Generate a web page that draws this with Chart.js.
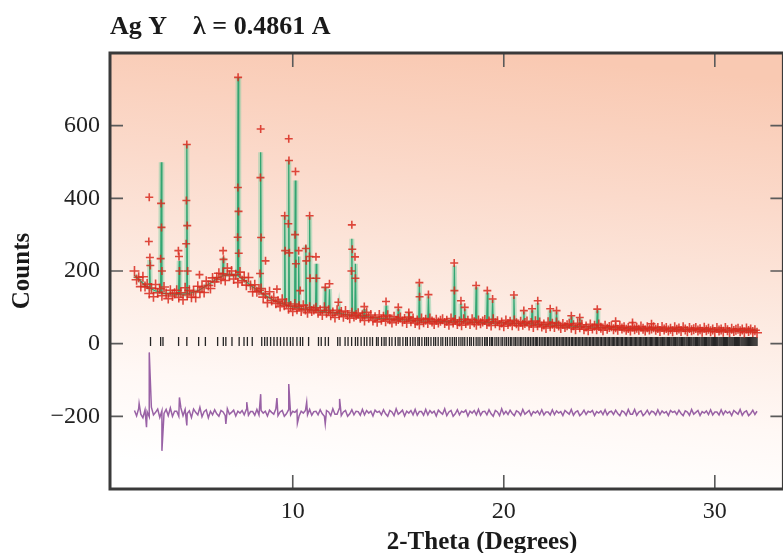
<!DOCTYPE html>
<html>
<head>
<meta charset="utf-8">
<script src="https://cdn.jsdelivr.net/npm/chart.js@4.4.1/dist/chart.umd.min.js"></script>
<style>
  html, body { margin: 0; padding: 0; background: #fff; overflow: hidden; }
  canvas { display: block; }
</style>
</head>
<body>
<canvas id="myChart" width="790" height="553"></canvas>
<script>
const serif = '"Liberation Serif", "Times New Roman", serif';

const titleText = 'Ag Y    \u03bb = 0.4861 A';
const xTitle = '2-Theta (Degrees)';
const yTitle = 'Counts';
const xTickValues = [10, 20, 30];
const yTickValues = [-200, 0, 200, 400, 600];

// scan positions (2-theta, degrees)
const scanTheta = [
  2.5, 2.6, 2.7, 2.8, 2.9,
  3.0, 3.1, 3.2, 3.3, 3.4, 3.5, 3.6, 3.7, 3.8, 3.9,
  4.0, 4.1, 4.2, 4.3, 4.4, 4.5, 4.6, 4.7, 4.8, 4.9,
  5.0, 5.1, 5.2, 5.3, 5.4, 5.5, 5.6, 5.7, 5.8, 5.9,
  6.0, 6.1, 6.2, 6.3, 6.4, 6.5, 6.6, 6.7, 6.8, 6.9,
  7.0, 7.1, 7.2, 7.3, 7.4, 7.5, 7.6, 7.7, 7.8, 7.9,
  8.0, 8.1, 8.2, 8.3, 8.4, 8.5, 8.6, 8.7, 8.8, 8.9,
  9.0, 9.1, 9.2, 9.3, 9.4, 9.5, 9.6, 9.7, 9.8, 9.9,
  10.0, 10.1, 10.2, 10.3, 10.4, 10.5, 10.6, 10.7, 10.8, 10.9,
  11.0, 11.1, 11.2, 11.3, 11.4, 11.5, 11.6, 11.7, 11.8, 11.9,
  12.0, 12.1, 12.2, 12.3, 12.4, 12.5, 12.6, 12.7, 12.8, 12.9,
  13.0, 13.1, 13.2, 13.3, 13.4, 13.5, 13.6, 13.7, 13.8, 13.9,
  14.0, 14.1, 14.2, 14.3, 14.4, 14.5, 14.6, 14.7, 14.8, 14.9,
  15.0, 15.1, 15.2, 15.3, 15.4, 15.5, 15.6, 15.7, 15.8, 15.9,
  16.0, 16.1, 16.2, 16.3, 16.4, 16.5, 16.6, 16.7, 16.8, 16.9,
  17.0, 17.1, 17.2, 17.3, 17.4, 17.5, 17.6, 17.7, 17.8, 17.9,
  18.0, 18.1, 18.2, 18.3, 18.4, 18.5, 18.6, 18.7, 18.8, 18.9,
  19.0, 19.1, 19.2, 19.3, 19.4, 19.5, 19.6, 19.7, 19.8, 19.9,
  20.0, 20.1, 20.2, 20.3, 20.4, 20.5, 20.6, 20.7, 20.8, 20.9,
  21.0, 21.1, 21.2, 21.3, 21.4, 21.5, 21.6, 21.7, 21.8, 21.9,
  22.0, 22.1, 22.2, 22.3, 22.4, 22.5, 22.6, 22.7, 22.8, 22.9,
  23.0, 23.1, 23.2, 23.3, 23.4, 23.5, 23.6, 23.7, 23.8, 23.9,
  24.0, 24.1, 24.2, 24.3, 24.4, 24.5, 24.6, 24.7, 24.8, 24.9,
  25.0, 25.1, 25.2, 25.3, 25.4, 25.5, 25.6, 25.7, 25.8, 25.9,
  26.0, 26.1, 26.2, 26.3, 26.4, 26.5, 26.6, 26.7, 26.8, 26.9,
  27.0, 27.1, 27.2, 27.3, 27.4, 27.5, 27.6, 27.7, 27.8, 27.9,
  28.0, 28.1, 28.2, 28.3, 28.4, 28.5, 28.6, 28.7, 28.8, 28.9,
  29.0, 29.1, 29.2, 29.3, 29.4, 29.5, 29.6, 29.7, 29.8, 29.9,
  30.0, 30.1, 30.2, 30.3, 30.4, 30.5, 30.6, 30.7, 30.8, 30.9,
  31.0, 31.1, 31.2, 31.3, 31.4, 31.5, 31.6, 31.7, 31.8, 31.9,
  32.0
];

// observed counts at the scan positions
const obsCounts = [
  200, 176, 183, 157, 184,
  157, 164, 138, 153, 129, 163, 140, 151, 132, 156,
  138, 124, 147, 131, 139, 147, 127, 140, 121, 154,
  134, 147, 128, 144, 127, 158, 142, 156, 141, 172,
  160, 152, 181, 170, 182, 194, 177, 192, 174, 208,
  188, 200, 178, 190, 168, 197, 173, 182, 161, 182,
  160, 143, 162, 143, 147, 152, 128, 137, 113, 143,
  119, 127, 111, 117, 102, 122, 106, 112, 96, 104,
  89, 109, 95, 103, 90, 106, 94, 85, 100, 90,
  94, 99, 85, 92, 79, 100, 85, 92, 78, 86,
  72, 92, 79, 87, 74, 90, 79, 70, 85, 75,
  79, 84, 71, 78, 64, 86, 71, 79, 64, 73,
  60, 79, 66, 74, 62, 78, 67, 58, 74, 63,
  68, 72, 61, 68, 57, 73, 62, 69, 57, 64,
  53, 69, 59, 66, 57, 69, 61, 54, 66, 58,
  63, 67, 57, 63, 52, 69, 58, 65, 54, 61,
  51, 67, 57, 63, 54, 67, 59, 52, 64, 56,
  61, 65, 54, 61, 50, 67, 56, 62, 51, 58,
  48, 64, 54, 60, 51, 64, 56, 49, 60, 52,
  57, 61, 50, 57, 46, 62, 51, 58, 47, 53,
  43, 59, 48, 55, 46, 58, 50, 43, 54, 46,
  51, 55, 44, 51, 40, 56, 45, 52, 40, 47,
  37, 53, 42, 49, 40, 53, 44, 37, 49, 41,
  46, 48, 40, 45, 38, 49, 42, 45, 38, 43,
  36, 47, 40, 44, 38, 47, 41, 36, 45, 39,
  42, 45, 38, 43, 35, 46, 39, 43, 36, 41,
  34, 45, 38, 42, 35, 45, 39, 34, 43, 37,
  40, 43, 36, 40, 33, 44, 37, 41, 34, 39,
  32, 43, 36, 39, 33, 43, 37, 32, 41, 35,
  38, 41, 34, 39, 31, 42, 35, 39, 32, 37,
  30
];

// observed points on the Bragg peaks [2-theta, counts]
const obsPeaks = [
  [3.20, 403], [3.18, 281], [3.23, 237], [3.25, 215],
  [3.76, 386], [3.78, 320], [3.74, 234], [3.80, 200],
  [4.58, 256], [4.61, 240], [4.63, 200],
  [4.98, 548], [4.96, 394], [5.00, 325], [4.95, 275], [5.02, 200],
  [5.58, 190], [6.70, 256], [6.72, 232],
  [7.41, 733], [7.40, 430], [7.43, 364], [7.39, 293], [7.44, 249],
  [8.48, 591], [8.47, 457], [8.50, 292], [8.45, 193], [8.71, 228], [9.25, 150],
  [9.62, 352], [9.64, 256], [9.81, 564], [9.82, 504], [9.79, 330], [9.84, 250],
  [10.13, 474], [10.11, 300], [10.15, 220], [10.28, 256], [10.35, 146],
  [10.62, 262], [10.64, 228], [10.80, 352], [10.79, 240], [10.82, 180],
  [11.10, 239], [11.12, 180], [11.54, 155], [11.74, 165], [12.16, 114],
  [12.80, 327], [12.82, 260], [12.78, 200], [12.95, 239], [12.97, 180],
  [13.39, 102], [14.42, 116], [15.00, 100], [15.50, 86],
  [16.00, 168], [16.01, 129], [16.43, 135], [17.65, 222], [17.66, 146],
  [17.97, 118], [18.15, 100], [18.69, 160], [19.22, 146], [19.47, 123],
  [20.48, 134], [20.95, 91], [21.34, 96], [21.61, 118], [22.20, 96],
  [22.50, 91], [23.20, 77], [23.60, 72], [24.43, 95], [25.30, 62],
  [26.10, 58], [27.00, 55]
];

// calculated profile [2-theta, counts]
const calcProfile = [
  [2.5, 188], [2.8, 172], [3.0, 160],
  [3.19, 153], [3.22, 230], [3.25, 152], [3.5, 145],
  [3.74, 142], [3.77, 499], [3.80, 140], [4.0, 138], [4.5, 136],
  [4.59, 136], [4.62, 228], [4.65, 136],
  [4.95, 137], [4.98, 548], [5.01, 137],
  [5.5, 145], [6.0, 163], [6.5, 182],
  [6.67, 186], [6.70, 237], [6.73, 188], [7.0, 191],
  [7.38, 187], [7.41, 733], [7.44, 185], [7.7, 175], [8.0, 161],
  [8.45, 142], [8.48, 527], [8.51, 140], [9.0, 122],
  [9.59, 108], [9.62, 352], [9.65, 107],
  [9.78, 105], [9.81, 504], [9.84, 104],
  [10.09, 100], [10.12, 449], [10.15, 100],
  [10.25, 98], [10.28, 240], [10.31, 98],
  [10.59, 95], [10.62, 270], [10.65, 95],
  [10.77, 94], [10.80, 350], [10.83, 93],
  [11.08, 91], [11.11, 220], [11.14, 91],
  [11.51, 88], [11.54, 155], [11.57, 87],
  [11.71, 86], [11.74, 150], [11.77, 86],
  [12.17, 83], [12.20, 95], [12.23, 83],
  [12.77, 78], [12.80, 289], [12.83, 78],
  [12.94, 77], [12.97, 220], [13.00, 77],
  [13.36, 75], [13.39, 95], [13.42, 75], [14.0, 70],
  [14.39, 69], [14.42, 105], [14.45, 69],
  [14.97, 66], [15.00, 95], [15.03, 66],
  [15.47, 65], [15.50, 85], [15.53, 65],
  [15.97, 62], [16.00, 165], [16.03, 62],
  [16.40, 62], [16.43, 130], [16.46, 62], [17.0, 61],
  [17.63, 60], [17.66, 215], [17.69, 60],
  [17.94, 60], [17.97, 110], [18.00, 60],
  [18.12, 60], [18.15, 95], [18.18, 60],
  [18.66, 59], [18.69, 155], [18.72, 59],
  [19.19, 58], [19.22, 140], [19.25, 58],
  [19.44, 58], [19.47, 120], [19.50, 58], [20.0, 57],
  [20.45, 56], [20.48, 130], [20.51, 56],
  [20.92, 55], [20.95, 88], [20.98, 55],
  [21.31, 54], [21.34, 92], [21.37, 54],
  [21.58, 53], [21.61, 112], [21.64, 53],
  [22.17, 51], [22.20, 92], [22.23, 51],
  [22.47, 50], [22.50, 88], [22.53, 50],
  [23.17, 48], [23.20, 75], [23.23, 48],
  [23.57, 47], [23.60, 70], [23.63, 47], [24.0, 46],
  [24.40, 45], [24.43, 92], [24.46, 45],
  [25.0, 44], [26.0, 42], [28.0, 40], [30.0, 38], [32.0, 36]
];

// difference curve (obs - calc, offset) at the scan positions
const diffCounts = [
  -184, -199, -178, -194, -204,
  -182, -187, -201, -175, -196, -189, -180, -203, -185, -192,
  -181, -198, -177, -200, -186, -186, -200, -177, -198, -181,
  -192, -185, -203, -180, -189, -196, -175, -201, -187, -182,
  -204,
  -186, -196, -182, -193, -200, -184, -188, -198, -179, -194,
  -189, -183, -199, -186, -191, -184, -196, -181, -197, -187,
  -187, -197, -181, -196, -184, -191, -186, -199, -183, -189,
  -194, -179, -198, -188, -184, -200, -193, -182, -196, -186,
  -189, -183, -199, -186, -191, -184, -196, -181, -197, -187,
  -186, -196, -182, -193, -200, -184, -188, -198, -179, -194,
  -194, -179, -198, -188, -184, -200, -193, -182, -196, -186,
  -187, -197, -181, -196, -184, -191, -186, -199, -183, -189,
  -186, -196, -182, -193, -200, -184, -188, -198, -179, -194,
  -189, -183, -199, -186, -191, -184, -196, -181, -197, -187,
  -187, -197, -181, -196, -184, -191, -186, -199, -183, -189,
  -194, -179, -198, -188, -184, -200, -193, -182, -196, -186,
  -189, -183, -199, -186, -191, -184, -196, -181, -197, -187,
  -186, -196, -182, -193, -200, -184, -188, -198, -179, -194,
  -186, -195, -183, -192, -198, -185, -188, -197, -181, -194,
  -189, -184, -198, -187, -191, -185, -195, -182, -196, -188,
  -188, -196, -182, -195, -185, -191, -187, -198, -184, -189,
  -194, -181, -197, -188, -185, -198, -192, -183, -195, -186,
  -189, -184, -198, -187, -191, -185, -195, -182, -196, -188,
  -186, -195, -183, -192, -198, -185, -188, -197, -181, -194,
  -194, -181, -197, -188, -185, -198, -192, -183, -195, -186,
  -188, -196, -182, -195, -185, -191, -187, -198, -184, -189,
  -186, -195, -183, -192, -198, -185, -188, -197, -181, -194,
  -189, -184, -198, -187, -191, -185, -195, -182, -196, -188,
  -188, -196, -182, -195, -185, -191, -187, -198, -184, -189,
  -194, -181, -197, -188, -185, -198, -192, -183, -195, -186
];

// misfit spikes in the difference curve [2-theta, counts]
const diffSpikes = [
  [2.72, -165], [3.07, -230], [3.20, -24], [3.80, -295], [4.63, -148],
  [4.98, -225], [6.83, -221], [7.82, -161], [8.48, -139], [9.25, -150],
  [9.81, -111], [10.22, -219], [10.66, -161], [11.54, -221], [12.22, -152]
];

// reflection positions (tick marks)
const reflections = [
  3.26, 3.74, 3.85, 4.59, 4.98, 5.54, 5.86, 6.44, 6.71, 6.83, 7.12, 7.46, 7.69, 7.85,
  8.08, 8.53, 8.67, 8.79, 8.95, 9.11, 9.26, 9.42, 9.58, 9.73, 9.89, 10.01, 10.2, 10.36,
  10.47, 10.75, 11.22, 11.35, 11.54, 11.69, 12.13, 12.24, 12.48,
  12.62, 12.79, 12.97, 13.08, 13.24, 13.39, 13.51, 13.66, 13.78, 13.97, 14.05, 14.21,
  14.33, 14.42, 14.58, 14.70, 14.86, 14.99, 15.08, 15.22, 15.35, 15.43, 15.57, 15.69,
  15.80, 15.93, 16.00, 16.12, 16.25, 16.34, 16.43, 16.55, 16.68, 16.77, 16.89, 17.02,
  17.11, 17.24, 17.33, 17.45, 17.56, 17.66, 17.75, 17.87, 17.97, 18.06, 18.15, 18.27,
  18.38, 18.46, 18.57, 18.69, 18.78, 18.87, 18.98, 19.09, 19.16, 19.22, 19.33, 19.41,
  19.47, 19.58, 19.67, 19.76, 19.87, 19.95,
  20.05, 20.13, 20.22, 20.31, 20.38, 20.48, 20.55, 20.63, 20.72, 20.80, 20.86, 20.95,
  21.03, 21.11, 21.18, 21.26, 21.34, 21.41, 21.49, 21.55, 21.61, 21.70, 21.77, 21.85,
  21.92, 21.99, 22.07, 22.13, 22.20, 22.28, 22.35, 22.42, 22.50, 22.56, 22.63, 22.71,
  22.77, 22.84, 22.91, 22.98, 23.05, 23.12, 23.20, 23.26, 23.33, 23.40, 23.46, 23.53,
  23.60, 23.66, 23.73, 23.80, 23.86, 23.93, 23.99, 24.06, 24.12, 24.19, 24.25, 24.32,
  24.38, 24.43, 24.50, 24.57, 24.63, 24.70, 24.76, 24.82, 24.89, 24.95,
  25.01, 25.08, 25.14, 25.20, 25.26, 25.33, 25.39, 25.45, 25.51, 25.57, 25.63, 25.70,
  25.76, 25.82, 25.88, 25.94, 26.00, 26.06, 26.12, 26.18, 26.24, 26.30, 26.36, 26.42,
  26.48, 26.54, 26.60, 26.65, 26.71, 26.77, 26.83, 26.89, 26.95, 27.00, 27.06, 27.12,
  27.18, 27.23, 27.29, 27.35, 27.41, 27.46, 27.52, 27.58, 27.63, 27.69, 27.75, 27.80,
  27.86, 27.92, 27.97, 28.03, 28.08, 28.14, 28.20, 28.25, 28.31, 28.36, 28.42, 28.47,
  28.53, 28.58, 28.64, 28.69, 28.75, 28.80, 28.86, 28.91, 28.97, 29.02, 29.08, 29.13,
  29.18, 29.24, 29.29, 29.35, 29.40, 29.45, 29.51, 29.56, 29.61, 29.67, 29.72, 29.77,
  29.83, 29.88, 29.93, 29.98, 30.04, 30.09, 30.14, 30.20, 30.25, 30.30, 30.35, 30.41,
  30.46, 30.51, 30.56, 30.61, 30.67, 30.72, 30.77, 30.82, 30.87, 30.93, 30.98, 31.03,
  31.08, 31.13, 31.18, 31.24, 31.29, 31.34, 31.39, 31.44, 31.49, 31.54, 31.59, 31.65,
  31.70, 31.75, 31.80, 31.85, 31.90, 31.95, 32.00
];
const reflectionLevel = 6;

const obsPoints = scanTheta.map((t, i) => ({ x: t, y: obsCounts[i] }))
  .concat(obsPeaks.map(p => ({ x: p[0], y: p[1] })));
const calcPoints = calcProfile.map(p => ({ x: p[0], y: p[1] }));
const diffPoints = scanTheta.map((t, i) => ({ x: t, y: diffCounts[i] }))
  .concat(diffSpikes.map(p => ({ x: p[0], y: p[1] })))
  .sort((a, b) => a.x - b.x);
const tickPoints = reflections.map(t => ({ x: t, y: reflectionLevel }));

// background wash, frame with inward ticks, x caption
const plotFrame = {
  id: 'plotFrame',
  beforeDatasetsDraw(chart) {
    const { ctx, chartArea: a } = chart;
    const g = ctx.createLinearGradient(a.left + a.width * 0.56, a.top, a.left + a.width * 0.5, a.bottom);
    g.addColorStop(0, '#f9c9b2');
    g.addColorStop(0.3, '#fbdacb');
    g.addColorStop(0.6, '#fdede5');
    g.addColorStop(0.8, '#fff8f5');
    g.addColorStop(1, '#ffffff');
    ctx.save();
    ctx.fillStyle = g;
    ctx.fillRect(a.left, a.top, a.width, a.height);
    ctx.restore();
  },
  afterDraw(chart) {
    const { ctx, chartArea: a, scales } = chart;
    ctx.save();
    ctx.strokeStyle = '#5a5a5a';
    ctx.lineWidth = 1.6;
    ctx.beginPath();
    xTickValues.forEach(v => {
      const px = scales.x.getPixelForValue(v);
      ctx.moveTo(px, a.bottom); ctx.lineTo(px, a.bottom - 14);
      ctx.moveTo(px, a.top); ctx.lineTo(px, a.top + 14);
    });
    yTickValues.forEach(v => {
      const py = scales.y.getPixelForValue(v);
      ctx.moveTo(a.left, py); ctx.lineTo(a.left + 13, py);
      ctx.moveTo(a.right, py); ctx.lineTo(a.right - 13, py);
    });
    ctx.stroke();
    ctx.strokeStyle = '#3a3a3a';
    ctx.lineWidth = 3;
    ctx.strokeRect(a.left, a.top, a.width, a.height);
    ctx.fillStyle = '#1a1a1a';
    ctx.font = 'bold 25px ' + serif;
    ctx.textAlign = 'center';
    ctx.textBaseline = 'middle';
    ctx.fillText(xTitle, 482, 543);
    ctx.restore();
  }
};

const ctx = document.getElementById('myChart');
const myChart = new Chart(ctx, {
  type: 'scatter',
  data: {
    datasets: [
      {
        label: 'Observed',
        data: obsPoints,
        pointStyle: 'cross',
        pointRadius: c => c.dataIndex < scanTheta.length ? 5 : 4,
        pointBorderWidth: 1.6,
        borderColor: 'rgba(216, 42, 30, 0.85)',
        backgroundColor: 'rgba(216, 42, 30, 0.85)'
      },
      {
        label: 'Calculated',
        data: calcPoints,
        showLine: true,
        pointRadius: 0,
        borderWidth: 1.3,
        borderColor: 'rgba(35, 160, 105, 0.9)'
      },
      {
        label: 'Calculated halo',
        data: calcPoints,
        showLine: true,
        pointRadius: 0,
        borderWidth: 5,
        borderColor: 'rgba(120, 205, 160, 0.45)'
      },
      {
        label: 'Reflections',
        data: tickPoints,
        pointStyle: 'line',
        pointRotation: 90,
        pointRadius: 4.5,
        pointBorderWidth: 1.3,
        borderColor: '#262626',
        backgroundColor: '#262626'
      },
      {
        label: 'Difference',
        data: diffPoints,
        showLine: true,
        pointRadius: 0,
        borderWidth: 1.5,
        borderColor: 'rgba(135, 70, 150, 0.85)'
      }
    ]
  },
  options: {
    responsive: false,
    animation: false,
    layout: { padding: { right: 2 } },
    plugins: {
      legend: { display: false },
      tooltip: { enabled: false },
      title: {
        display: true,
        text: titleText,
        align: 'start',
        fullSize: false,
        color: '#1a1a1a',
        font: { family: serif, size: 26, weight: 'bold' },
        padding: { top: 12, bottom: 9.8 }
      }
    },
    scales: {
      x: {
        type: 'linear',
        min: 1.34,
        max: 33.25,
        afterBuildTicks: axis => { axis.ticks = xTickValues.map(v => ({ value: v })); },
        afterFit: axis => { axis.height = 64; },
        grid: { display: false, drawTicks: false },
        border: { display: false },
        ticks: {
          padding: 8,
          maxRotation: 0,
          autoSkip: false,
          color: '#222',
          font: { family: serif, size: 24 }
        }
      },
      y: {
        min: -400,
        max: 800,
        afterBuildTicks: axis => { axis.ticks = yTickValues.map(v => ({ value: v })); },
        afterFit: axis => { axis.width = 110; },
        grid: { display: false, drawTicks: false },
        border: { display: false },
        ticks: {
          padding: 10,
          color: '#222',
          font: { family: serif, size: 24 },
          callback: v => v < 0 ? '\u2212' + Math.abs(v) : String(v)
        },
        title: {
          display: true,
          text: yTitle,
          color: '#1a1a1a',
          font: { family: serif, size: 25, weight: 'bold' },
          padding: { top: 8, bottom: 0 }
        }
      }
    }
  },
  plugins: [plotFrame]
});
</script>
</body>
</html>
